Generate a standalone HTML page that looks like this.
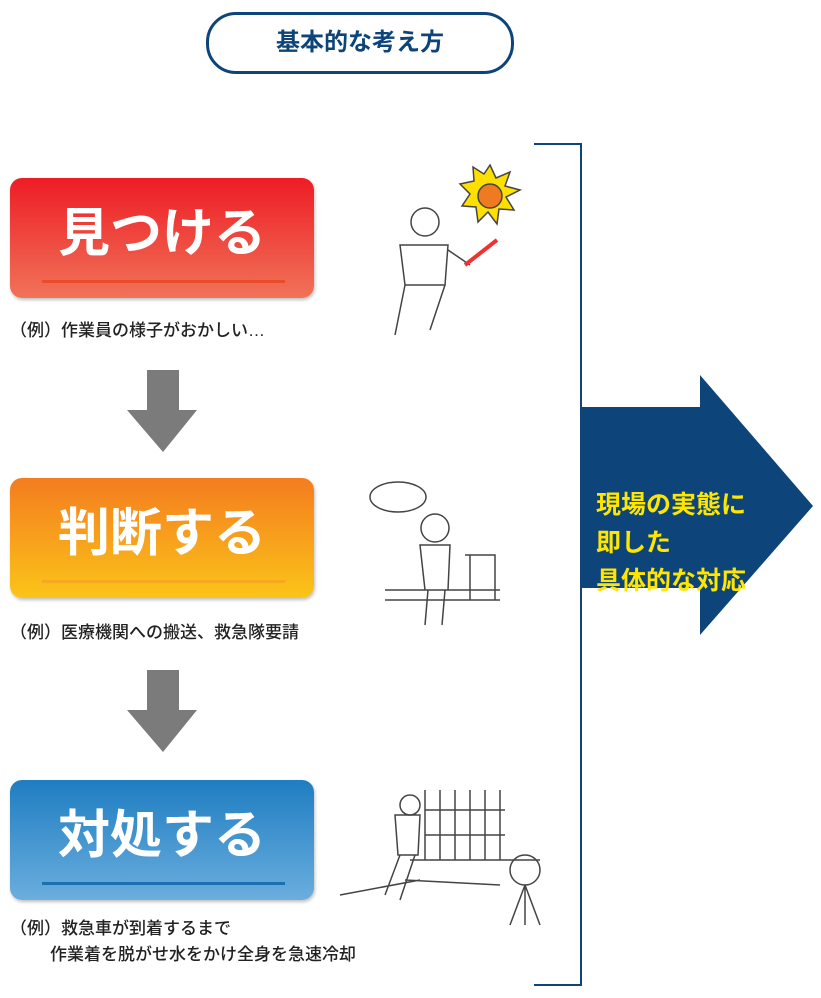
<!DOCTYPE html>
<html><head><meta charset="utf-8"><style>
body{margin:0;width:821px;height:998px;background:#fff;position:relative;overflow:hidden;font-family:"Liberation Sans","Noto Sans CJK JP",sans-serif}
.a{position:absolute}
.pill{left:206px;top:12px;width:302px;height:56px;border:3px solid #0d4479;border-radius:30px;color:#0d4479;font-weight:bold;font-size:24px;text-align:center;line-height:56px}
.box{left:10px;width:304px;height:120px;border-radius:12px;color:#fff;font-weight:bold;font-size:52px;text-align:center;line-height:112px;box-shadow:1px 2px 3px rgba(0,0,0,.25)}
.box i{position:absolute;left:32px;width:243px;height:3px;top:102px}
.ex{font-size:17px;color:#222;font-weight:500;left:10px;white-space:nowrap}
</style></head><body>
<div class="a pill">基本的な考え方</div>

<div class="a box" style="top:178px;background:linear-gradient(#ee1c25,#f07358)">見つける<i style="background:#ea4b2b"></i></div>
<div class="a ex" style="top:316px">（例）作業員の様子がおかしい…</div>

<div class="a box" style="top:478px;background:linear-gradient(#f47c20,#fbc418)">判断する<i style="background:#f7a823"></i></div>
<div class="a ex" style="top:618px">（例）医療機関への搬送、救急隊要請</div>

<div class="a box" style="top:780px;background:linear-gradient(#1f7dc1,#6aaede)">対処する<i style="background:#1e6fb0"></i></div>
<div class="a ex" style="top:916px;line-height:26px">（例）救急車が到着するまで<br><span style="padding-left:40px">作業着を脱がせ水をかけ全身を急速冷却</span></div>

<svg class="a" style="left:0;top:0" width="821" height="998">
<polygon points="147,370 179,370 179,410 197,410 163,452 127,410 147,410" fill="#7b7b7b"/>
<polygon points="147,670 179,670 179,710 197,710 163,752 127,710 147,710" fill="#7b7b7b"/>
<polyline points="534,144 581,144 581,985 534,985" fill="none" stroke="#0d4479" stroke-width="2"/>
<polygon points="581,407 700,407 700,375 813,506 700,635 700,588 581,588" fill="#0d4479"/>
<g fill="none" stroke="#444" stroke-width="1.5">
<polygon points="490,165 496,178 510,172 505,186 520,190 506,197 514,210 499,209 497,224 488,212 478,222 476,207 462,206 470,194 460,184 474,181 473,167 484,174" fill="#fde000"/>
<circle cx="490" cy="196" r="12" fill="#f07a20"/>
<circle cx="425" cy="222" r="14"/>
<path d="M400 245 L448 245 L445 285 L405 285 Z M405 285 L395 335 M445 285 L430 330 M448 250 L470 265"/>
<line x1="465" y1="265" x2="497" y2="240" stroke="#e33" stroke-width="4"/>
<ellipse cx="398" cy="497" rx="28" ry="15"/>
<circle cx="435" cy="528" r="14"/>
<path d="M420 545 L450 545 L448 590 L425 590 Z M428 590 L425 625 M445 590 L442 625 M385 590 L500 590 M385 600 L500 600 M465 555 L495 555 L495 600 M470 555 L470 600"/>
<path d="M425 790 L425 860 M440 790 L440 860 M455 790 L455 860 M470 790 L470 860 M485 790 L485 860 M500 790 L500 860 M425 810 L505 810 M425 835 L505 835 M410 860 L540 860"/>
<circle cx="410" cy="805" r="10"/>
<path d="M395 815 L420 815 L418 855 L398 855 Z M400 855 L385 895 M415 855 L400 900 M340 895 L420 880 M405 880 L500 885"/>
<circle cx="525" cy="870" r="15"/>
<path d="M525 885 L510 925 M525 885 L540 925 M525 885 L525 925"/>
</g>
</svg>
<div class="a" style="left:596px;top:486px;color:#ffe600;font-weight:bold;font-size:25px;line-height:38px;white-space:nowrap">現場の実態に<br>即した<br>具体的な対応</div>
</body></html>
